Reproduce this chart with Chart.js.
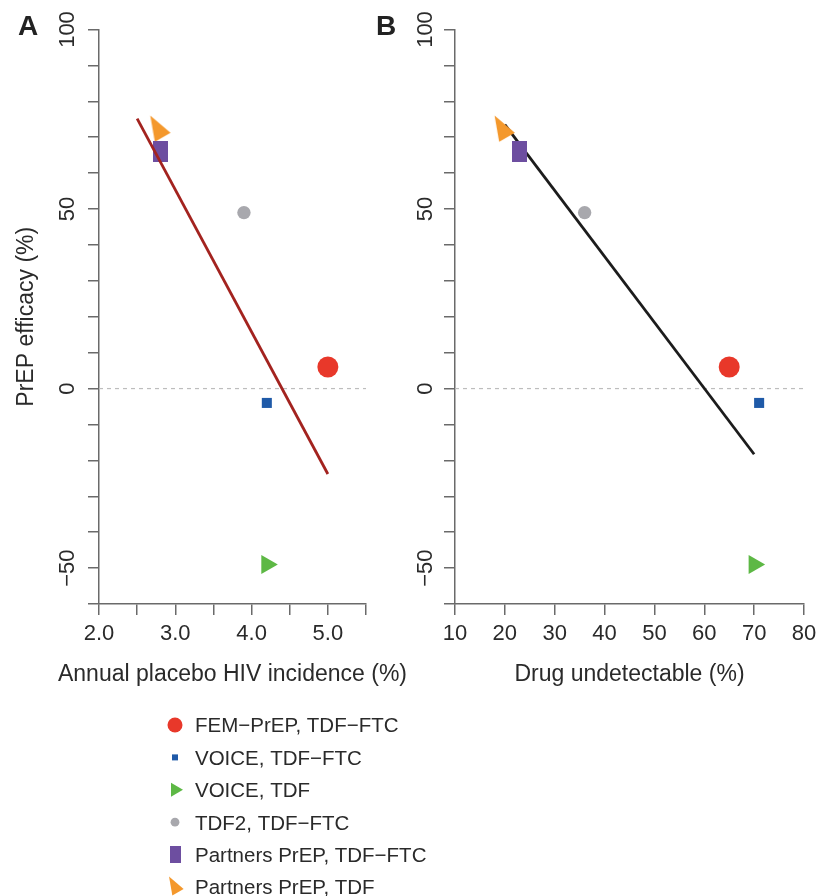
<!DOCTYPE html>
<html>
<head>
<meta charset="utf-8">
<script src="https://cdn.jsdelivr.net/npm/chart.js@4.4.0/dist/chart.umd.min.js"></script>
<style>
html,body{margin:0;padding:0;background:#fff;}
#wrap{position:relative;width:827px;height:896px;overflow:hidden;background:#fff;}
canvas{position:absolute;top:0;}
#cA{left:0;}
#cB{left:413px;}
</style>
</head>
<body>
<div id="wrap">
<canvas id="cA" width="827" height="896"></canvas>
<canvas id="cB" width="414" height="700"></canvas>
</div>
<script>
// ---------------- DATA ----------------
const studies = ['FEM\u2212PrEP, TDF\u2212FTC', 'VOICE, TDF\u2212FTC', 'VOICE, TDF', 'TDF2, TDF\u2212FTC', 'Partners PrEP, TDF\u2212FTC', 'Partners PrEP, TDF'];
const efficacy = [6, -4, -49, 49, 66, 72];
const placeboIncidence = [5.0, 4.2, 4.2, 3.9, 2.8, 2.78];
const drugUndetectable = [65, 71, 70, 36, 23, 19.6];
const fitA_x = [2.5, 5.0];
const fitA_y = [75.2, -23.8];
const fitB_x = [20, 70];
const fitB_y = [73.5, -18.3];
const zeroA_x = [2.0, 5.5];
const zeroB_x = [10, 80];
const zero_y = [0, 0];
const yTickLabels = [100, 50, 0, -50];
const xTickLabelsA = ['2.0', '3.0', '4.0', '5.0'];
const xTickLabelsB = ['10', '20', '30', '40', '50', '60', '70', '80'];
const xTitleA = 'Annual placebo HIV incidence (%)';
const xTitleB = 'Drug undetectable (%)';
const yTitle = 'PrEP efficacy (%)';
const panelLetters = ['A', 'B'];

// ---------------- STYLES ----------------
const FONT = '"Liberation Sans", Arial, Helvetica, sans-serif';
const TEXT = '#2a2a2a';
const AXIS = '#6a6a6a';
Chart.defaults.font.family = FONT;
Chart.defaults.color = TEXT;

function rectImg(w, h, color) {
  const c = document.createElement('canvas');
  c.width = w; c.height = h;
  const g = c.getContext('2d');
  g.fillStyle = color; g.fillRect(0, 0, w, h);
  return c;
}
function arrowTriImg(s, color) {
  const c = document.createElement('canvas');
  c.width = 34; c.height = 34;
  const g = c.getContext('2d');
  g.fillStyle = color;
  g.beginPath();
  g.moveTo(17 - 8.3 * s, 17 - 14.5 * s);
  g.lineTo(17 + 12 * s, 17 + 2.8 * s);
  g.lineTo(17 - 3.7 * s, 17 + 11.7 * s);
  g.closePath(); g.fill();
  return c;
}
const colors = ['#e8382a', '#1f5aa8', '#5db845', '#a8a8ad', '#6d4ea0', '#f4982c'];
const markers = [
  {style: 'circle', radius: 10.5, rot: 0},
  {style: 'rect', radius: 7.1, rot: 0},
  {style: 'triangle', radius: 11, rot: 90},
  {style: 'circle', radius: 6.7, rot: 0},
  {style: rectImg(15, 21, colors[4]), radius: 10, rot: 0},
  {style: arrowTriImg(1, colors[5]), radius: 10, rot: 0}
];
const legendMarkers = [
  {style: 'circle', radius: 7.5},
  {style: 'rect', w: 6, h: 6},
  {style: 'tri', radius: 8},
  {style: 'circle', radius: 4.4},
  {style: rectImg(11, 17, colors[4])},
  {style: arrowTriImg(0.72, colors[5])}
];

function pointDatasets(xs) {
  return studies.map((s, i) => ({
    label: s,
    data: [{x: xs[i], y: efficacy[i]}],
    pointStyle: markers[i].style,
    pointRadius: markers[i].radius,
    pointRotation: markers[i].rot,
    pointBackgroundColor: colors[i],
    pointBorderWidth: 0,
    pointBorderColor: colors[i],
    showLine: false,
    clip: false,
    order: 5 + i
  }));
}
function lineDataset(xs, ys, color, width, dash, order) {
  return {
    label: '',
    data: xs.map((x, i) => ({x: x, y: ys[i]})),
    showLine: true,
    borderColor: color,
    borderWidth: width,
    borderDash: dash,
    pointRadius: 0,
    fill: false,
    clip: false,
    order: order
  };
}

function yAxis(width) {
  return {
    type: 'linear', position: 'left', min: -60, max: 100,
    afterFit: (s) => { s.width = width; },
    ticks: {stepSize: 10, display: false},
    grid: {drawOnChartArea: false, drawTicks: true, tickLength: 11, color: AXIS, lineWidth: 1.5},
    border: {display: true, color: AXIS, width: 1.5},
    title: {display: width > 60, text: yTitle, font: {size: 23}, color: TEXT, padding: {top: 13, bottom: 0}}
  };
}
function xAxis(min, max, step, labels, title, fmt, showTitle) {
  return {
    type: 'linear', position: 'bottom', min: min, max: max,
    afterFit: (s) => { s.height = 96; },
    ticks: {
      stepSize: step, padding: 6, font: {size: 22}, color: TEXT, maxRotation: 0, autoSkip: false,
      callback: (v) => { const t = fmt(v); return labels.includes(t) ? t : ''; }
    },
    grid: {drawOnChartArea: false, drawTicks: true, tickLength: 11, color: AXIS, lineWidth: 1.5},
    border: {display: true, color: AXIS, width: 1.5},
    title: {display: showTitle, text: title, font: {size: 23}, color: TEXT, padding: {top: 0, bottom: 11.5}}
  };
}

function drawYLabels(ctx, scale, xBase) {
  ctx.save();
  ctx.font = '22px ' + FONT;
  ctx.fillStyle = TEXT;
  ctx.textAlign = 'center';
  ctx.textBaseline = 'alphabetic';
  yTickLabels.forEach(v => {
    const py = scale.getPixelForValue(v);
    ctx.save();
    ctx.translate(xBase, py);
    ctx.rotate(-Math.PI / 2);
    ctx.fillText(String(v).replace('-', '\u2212'), 0, 0);
    ctx.restore();
  });
  ctx.restore();
}

const decoA = {
  id: 'decoA',
  afterDraw(chart) {
    const ctx = chart.ctx;
    drawYLabels(ctx, chart.scales.y, 74);
    // x title of panel A (wider than its axis, so drawn here unsqueezed)
    const xs = chart.scales.x;
    ctx.save();
    ctx.font = '23px ' + FONT;
    ctx.fillStyle = TEXT;
    ctx.textAlign = 'center';
    ctx.textBaseline = 'middle';
    ctx.fillText(xTitleA, (xs.left + xs.right) / 2, xs.bottom - 11.5 - 23 * 1.2 / 2);
    ctx.restore();
    ctx.save();
    ctx.font = 'bold 28px ' + FONT;
    ctx.fillStyle = '#222';
    ctx.textAlign = 'center';
    ctx.textBaseline = 'alphabetic';
    ctx.fillText(panelLetters[0], 28, 35);
    ctx.fillText(panelLetters[1], 386, 35);
    ctx.restore();
    // legend
    const lx = 175, tx = 195, y0 = 725, dy = 32.4;
    ctx.save();
    ctx.font = '20.5px ' + FONT;
    ctx.textAlign = 'left';
    ctx.textBaseline = 'alphabetic';
    studies.forEach((s, i) => {
      const cy = y0 + i * dy;
      const m = legendMarkers[i];
      ctx.fillStyle = colors[i];
      if (m.style === 'circle') {
        ctx.beginPath(); ctx.arc(lx, cy, m.radius, 0, Math.PI * 2); ctx.fill();
      } else if (m.style === 'rect') {
        ctx.fillRect(lx - m.w / 2, cy - m.h / 2, m.w, m.h);
      } else if (m.style === 'tri') {
        const r = m.radius;
        ctx.beginPath(); ctx.moveTo(lx + r, cy); ctx.lineTo(lx - r / 2, cy - r * 0.866); ctx.lineTo(lx - r / 2, cy + r * 0.866); ctx.closePath(); ctx.fill();
      } else {
        ctx.drawImage(m.style, lx - m.style.width / 2, cy - m.style.height / 2);
      }
      ctx.fillStyle = TEXT;
      ctx.fillText(s, tx, cy + 7.3);
    });
    ctx.restore();
  }
};
const decoB = {
  id: 'decoB',
  afterDraw(chart) {
    drawYLabels(chart.ctx, chart.scales.y, 19);
  }
};

const commonOpts = {
  responsive: false,
  animation: false,
  events: [],
  plugins: {legend: {display: false}, tooltip: {enabled: false}}
};

new Chart(document.getElementById('cA'), {
  type: 'scatter',
  data: {
    datasets: [
      lineDataset(zeroA_x, zero_y, '#bdbdbd', 1.2, [4, 4], 20),
      lineDataset(fitA_x, fitA_y, '#a3231f', 2.8, [], 1)
    ].concat(pointDatasets(placeboIncidence))
  },
  options: Object.assign({}, commonOpts, {
    layout: {padding: {left: 0, top: 29.5, right: 461, bottom: 196}},
    scales: {
      x: xAxis(2, 5.5, 0.5, xTickLabelsA, xTitleA, v => v.toFixed(1), false),
      y: yAxis(99)
    }
  }),
  plugins: [decoA]
});

new Chart(document.getElementById('cB'), {
  type: 'scatter',
  data: {
    datasets: [
      lineDataset(zeroB_x, zero_y, '#bdbdbd', 1.2, [4, 4], 20),
      lineDataset(fitB_x, fitB_y, '#1c1c1c', 2.8, [], 15)
    ].concat(pointDatasets(drugUndetectable))
  },
  options: Object.assign({}, commonOpts, {
    layout: {padding: {left: 0, top: 29.5, right: 23, bottom: 0}},
    scales: {
      x: xAxis(10, 80, 10, xTickLabelsB, xTitleB, v => String(Math.round(v)), true),
      y: yAxis(42)
    }
  }),
  plugins: [decoB]
});
</script>
</body>
</html>
